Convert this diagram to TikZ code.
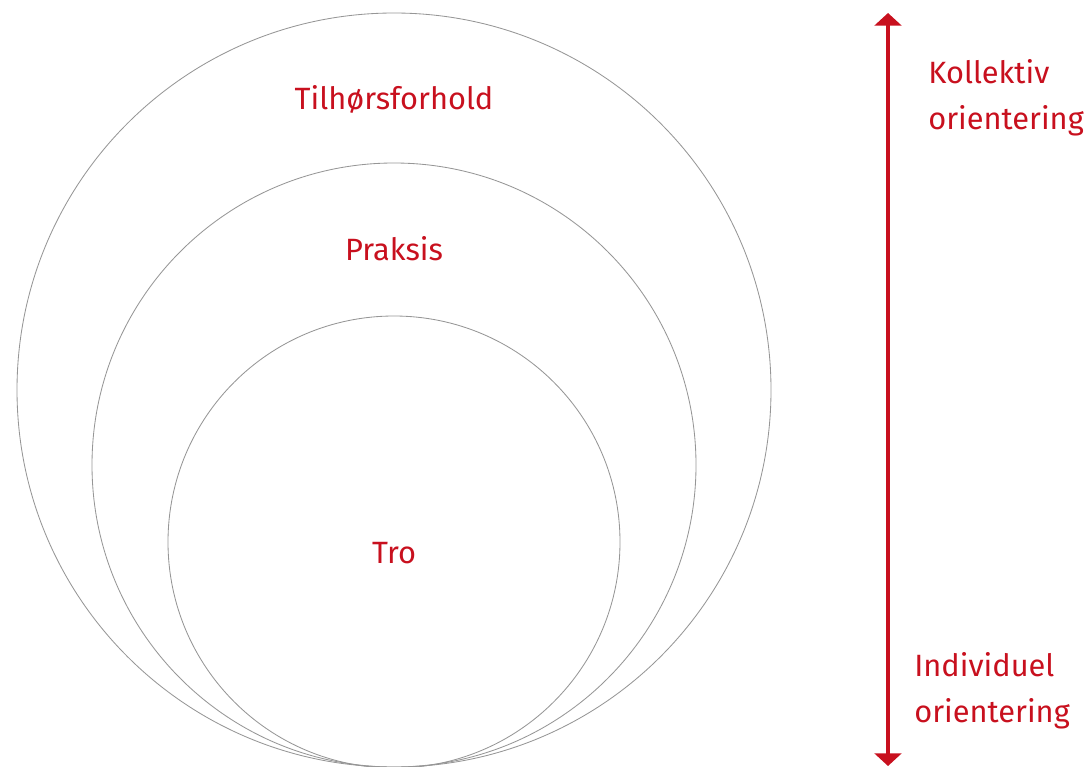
\documentclass[tikz,border=0pt]{standalone}
\usepackage{fontspec}
\setmainfont{Fira Sans}
\usepackage{xcolor}
\usepackage{tikz}
\usetikzlibrary{arrows.meta, positioning}
\definecolor{myred}{RGB}{200, 16, 30}
\definecolor{mygray}{RGB}{150, 150, 150}

\begin{document}
\begin{tikzpicture}[x=0.025cm, y=-0.025cm,
    ring/.style={draw=mygray, line width=0.6pt},
    label/.style={text=myred, font=\fontsize{21.9pt}{32.7pt}\selectfont, inner sep=0pt},
    side/.style={label, anchor=west, align=left}]
    \useasboundingbox (0, 0) rectangle (1089, 767);

    % tre cirkler
    \draw[ring] (394, 390) circle (377);
    \draw[ring] (394, 465) circle (302);
    \draw[ring] (394, 542) circle (226);

    % tekster
    \node[label] (tilh) at (394, 99) {Tilhørsforhold};
    \node[label] (praks) at (394, 249) {Praksis};
    \node[label] (tro) at (394, 553) {Tro};

    % pil
    \coordinate (top) at (888, 13);
    \coordinate (bund) at (888, 766);
    \draw[myred, line width=2.8pt, {Triangle[width=19pt, length=9pt]}-{Triangle[width=19pt, length=9pt]}] (top) -- (bund);

    \node[side] (koll) at (928, 98) {Kollektiv\\orientering};
    \node[side] (indiv) at (914, 691) {Individuel\\orientering};
\end{tikzpicture}
\end{document}
